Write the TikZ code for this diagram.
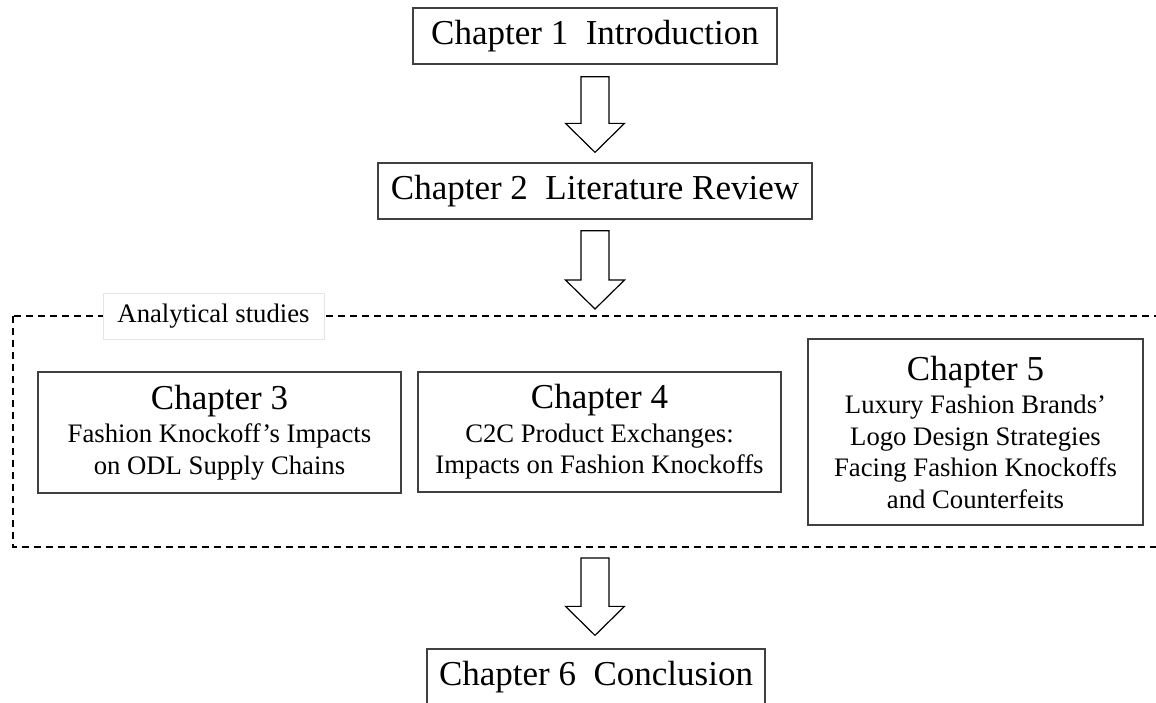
\documentclass[tikz,border=0pt]{standalone}
\usepackage{fontspec}
\setmainfont{Liberation Serif}
\usetikzlibrary{calc}

\newcommand\headsize{\fontsize{35}{40}\selectfont}
\newcommand\subsize{\fontsize{26.7}{31.5}\selectfont}

\tikzset{
  chapbox/.style={draw=black!75, line width=1.3pt, inner sep=0pt, align=center, font=\subsize},
  frame/.style={draw=black, line width=1.6pt, dash pattern=on 7pt off 5pt},
  blockarrow/.style={draw=black, line width=1.2pt, fill=white, line join=miter},
  tag/.style={fill=white, draw=black!10, line width=0.6pt, font=\subsize, inner sep=0pt,
              minimum width=221pt, minimum height=46pt},
}

% hollow down arrow: #1 = top centre of the shaft, #2 = tip
\newcommand\hollowarrow[2]{%
  \draw[blockarrow] let \p1=(#1), \p2=(#2) in
    (\x1-14pt,\y1) -- (\x1+14pt,\y1) -- (\x1+14pt,\y2+29pt) -- (\x1+29.5pt,\y2+29pt)
    -- (\x1,\y2) -- (\x1-29.5pt,\y2+29pt) -- (\x1-14pt,\y2+29pt) -- cycle;}

\begin{document}
\begin{tikzpicture}[x=1pt,y=-1pt]
\useasboundingbox (0,0) rectangle (1156,702);
\clip (0,0) rectangle (1156,702);

% chapters before the analytical part
\node[chapbox, font=\headsize, minimum width=364pt, minimum height=56pt] (c1) at (595,36)
  {Chapter 1\hspace{0.5em}Introduction};
\node[chapbox, font=\headsize, minimum width=434pt, minimum height=56pt] (c2) at (595,191)
  {Chapter 2\hspace{0.5em}Literature Review};

% dashed frame around the analytical studies
\coordinate (fr-nw) at (13,316);
\coordinate (fr-se) at (1172,547);
\draw[frame] (fr-nw) rectangle (fr-se);
\node[tag] (lab) at (213.5,316) {Analytical studies};

\node[chapbox, minimum width=363pt, minimum height=121pt] (c3) at (219.5,432.5)
  {{\headsize Chapter 3}\\[2pt] Fashion Knockoff’s Impacts\\ on ODL Supply Chains};
\node[chapbox, minimum width=363pt, minimum height=120pt] (c4) at (599.5,432)
  {{\headsize Chapter 4}\\[2pt] C2C Product Exchanges:\\ Impacts on Fashion Knockoffs};
\node[chapbox, minimum width=335pt, minimum height=186pt] (c5) at (975.5,432)
  {{\headsize Chapter 5}\\[2pt] Luxury Fashion Brands’\\ Logo Design Strategies\\
   Facing Fashion Knockoffs\\ and Counterfeits};

% conclusion
\node[chapbox, font=\headsize, minimum width=338pt, minimum height=56pt] (c6) at (596,677)
  {Chapter 6\hspace{0.5em}Conclusion};

% flow arrows
\coordinate (a1t) at ($(c1.south)+(0,12)$);
\coordinate (a1h) at ($(c2.north)+(0,-10)$);
\coordinate (a2t) at ($(c2.south)+(0,11)$);
\coordinate (a2h) at ($(c2.south |- fr-nw)+(0,-7)$);
\coordinate (a3t) at ($(c2.south |- fr-se)+(0,11)$);
\coordinate (a3h) at ($(c2.south |- c6.north)+(0,-13)$);
\hollowarrow{a1t}{a1h}
\hollowarrow{a2t}{a2h}
\hollowarrow{a3t}{a3h}
\end{tikzpicture}
\end{document}
